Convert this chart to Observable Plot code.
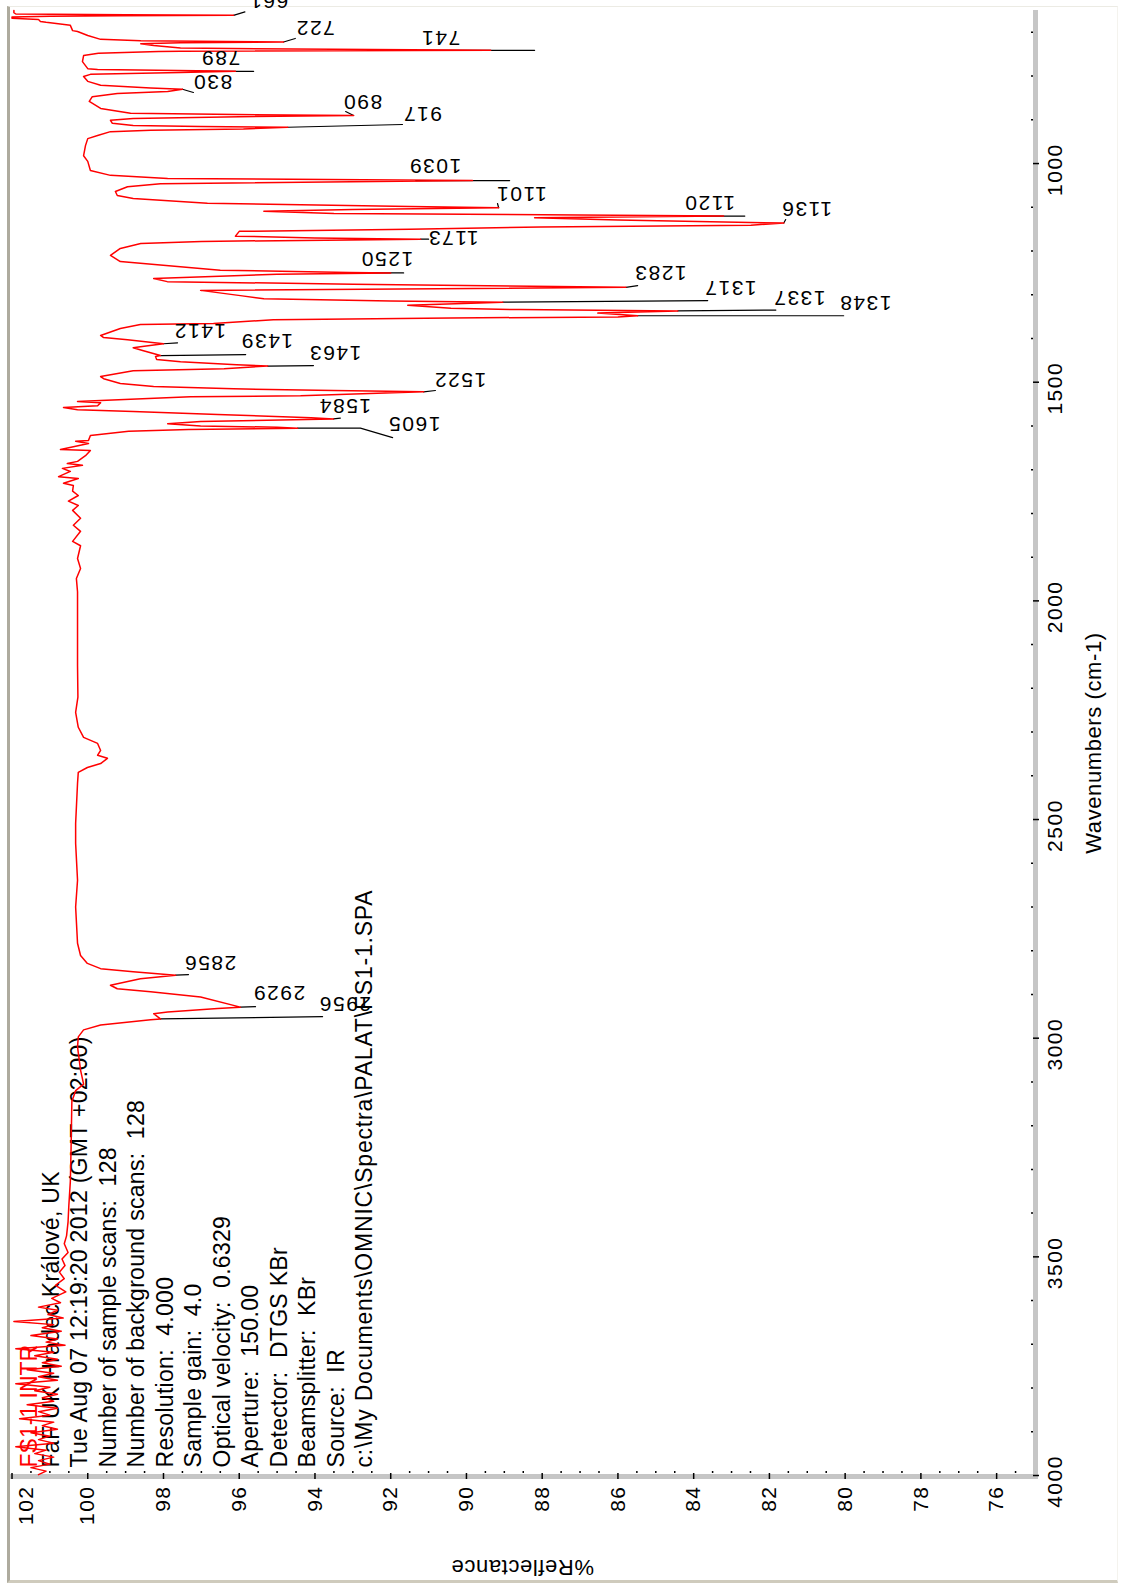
<!DOCTYPE html>
<html><head><meta charset="utf-8">
<script src="https://cdn.jsdelivr.net/npm/d3@7"></script>
<script src="https://cdn.jsdelivr.net/npm/@observablehq/plot@0.6"></script>
<style>
html,body{margin:0;padding:0;background:#fff;}
#wrap{position:relative;width:1123px;height:1585px;overflow:hidden;background:#fff;}
#frame{position:absolute;left:7px;top:6px;width:1111px;height:1577px;box-sizing:border-box;
  border-left:3px solid #aeab9e;border-bottom:3px solid #cfcbbd;border-top:1px solid #ecebe4;border-right:1px solid #f4f3ee;pointer-events:none;}
#wrap svg{position:absolute;left:0;top:0;}
</style></head>
<body><div id="wrap"><div id="frame"></div></div>
<script>
// ---- data (wavenumber cm-1, %reflectance) ----
const spectrum = [
 [650,101.95],[655,101.95],[658,101.9],[660,99.0],[661,96.15],[662,99.2],[663,101.0],[665,102.0],[668,102.0],
 [670.5,101.3],[675,101.25],[677,101.1],[684,100.46],[696,100.4],[698,100.27],[707,100.0],[716,99.66],[719,98.6],
 [722,94.83],[724,97.55],[726,98.6],[730,98.26],[736,97.55],[741,89.36],[743,97.55],[744,98.13],[748,99.72],
 [753,100.11],[767,100.14],[783,100.0],[785,99.74],[787,97.63],[789,96.1],[792,97.55],[796,99.93],[801,100.11],
 [812,100.0],[821,99.66],[827,98.34],[830,97.5],[835,97.89],[840,99.22],[847,99.88],[858,99.96],[874,99.66],
 [885,98.87],[888,96.07],[890,92.98],[893,95.99],[897,98.8],[901,99.4],[908,99.35],[913,98.8],[915,97.02],
 [917,94.72],[921,95.89],[924,98.34],[927,99.4],[936,99.74],[943,100.0],[959,100.06],[982,100.11],[995,100.0],
 [1016,99.93],[1027,99.4],[1034,97.89],[1039,89.84],[1046,98.08],[1053,98.95],[1064,99.27],[1073,99.22],
 [1080,98.8],[1091,96.84],[1098,91.5],[1101,89.15],[1105,93.0],[1109,95.35],[1114,93.5],[1120,83.21],
 [1124,88.2],[1129,86.0],[1136,81.62],[1141,82.49],[1145,88.04],[1150,91.5],[1155,96.0],[1166,96.1],
 [1170,94.0],[1173,91.21],[1178,97.0],[1183,98.6],[1194,99.14],[1210,99.4],[1224,99.14],[1244,96.5],
 [1249,93.1],[1250,92.0],[1253,95.0],[1263,98.26],[1270,97.9],[1276,93.0],[1283,85.79],[1290,97.02],
 [1302,95.97],[1309,95.35],[1314,92.0],[1317,89.04],[1324,91.55],[1331,90.41],[1334,88.6],[1337,84.42],
 [1342,86.53],[1348,85.48],[1351,86.0],[1353,90.41],[1357,95.1],[1366,96.68],[1368,98.61],[1377,99.14],
 [1393,99.66],[1398,99.58],[1403,98.95],[1412,98.0],[1419,98.61],[1421,98.8],[1428,98.53],[1439,98.08],
 [1441,98.21],[1448,98.18],[1453,97.55],[1460,96.07],[1463,95.25],[1469,96.4],[1474,98.8],[1487,99.66],
 [1492,99.58],[1503,99.14],[1510,98.26],[1515,96.15],[1519,93.51],[1522,91.13],[1531,94.38],[1533,97.29],
 [1542,99.66],[1544,100.27],[1547,99.66],[1554,99.74],[1558,100.64],[1563,100.27],[1567,98.8],[1574,96.57],
 [1581,94.1],[1584,93.51],[1590,97.02],[1595,97.89],[1600,97.02],[1603,95.0],[1605,94.46],[1608,97.34],
 [1612,98.92],[1622,99.93],[1633,99.98],[1635,100.32],[1640,99.98],[1654,100.72],[1656,99.93],[1668,100.06],
 [1681,100.27],[1686,100.54],[1690,100.14],[1697,100.67],[1704,100.46],[1716,100.77],[1720,100.25],
 [1731,100.64],[1736,100.38],[1749,100.4],[1759,100.25],[1772,100.51],[1782,100.25],[1793,100.4],
 [1811,100.19],[1827,100.38],[1841,100.19],[1864,100.4],[1874,100.19],[1903,100.27],[1926,100.19],
 [1949,100.3],[1979,100.27],[2025,100.27],[2148,100.27],[2220,100.26],[2255,100.32],[2289,100.25],
 [2312,100.11],[2326,99.74],[2342,99.66],[2353,99.74],[2360,99.48],[2372,99.66],[2381,100.01],[2392,100.25],
 [2417,100.27],[2509,100.32],[2555,100.32],[2639,100.27],[2700,100.32],[2783,100.27],[2811,100.19],
 [2829,100.01],[2841,99.66],[2848,98.8],[2856,97.68],[2864,98.61],[2879,99.4],[2887,99.22],[2894,98.34],
 [2906,97.02],[2929,95.97],[2932,96.57],[2940,97.89],[2944,98.26],[2956,98.08],[2958,98.34],[2970,99.66],
 [2981,100.11],[2997,100.25],[3020,100.27],[3073,100.19],[3105,100.11],[3120,100.32],[3145,100.42],
 [3250,100.44],[3328,100.46],[3383,100.5],[3420,100.52],[3452,100.56],[3470,100.62],[3490,100.52],
 [3505,100.68],[3520,100.6],[3535,100.75],[3550,100.62],[3565,100.85],[3580,100.58],[3595,100.95],
 [3605,100.72],[3615,101.3],[3622,100.8],[3632,101.05],[3640,100.65],[3648,101.95],[3655,100.9],
 [3662,101.2],[3670,100.7],[3680,101.5],[3688,100.8],[3695,101.1],[3702,100.6],[3710,101.9],[3718,100.9],
 [3726,101.4],[3734,100.8],[3742,101.2],[3750,100.7],[3758,101.6],[3766,100.9],[3774,101.3],[3782,100.8],
 [3790,101.9],[3798,101.0],[3806,101.4],[3814,100.8],[3822,101.2],[3830,100.9],[3838,101.6],[3846,100.8],
 [3854,101.3],[3862,101.0],[3870,101.8],[3878,100.9],[3886,101.2],[3894,100.8],[3902,101.5],[3910,101.0],
 [3918,101.3],[3926,100.9],[3934,101.9],[3942,101.1],[3950,101.4],[3958,100.9],[3966,101.3],[3974,101.0],
 [3982,101.5],[3990,101.1],[3998,101.3]
];

// peak labels: leader polyline and label anchor (refl, wavenumber)
const peaks = [
 {t:"661",  lead:[[96.15,661],[95.85,653]],            at:[95.75,646.5]},
 {t:"722",  lead:[[94.83,722],[94.52,714]],            at:[94.52,707.1]},
 {t:"741",  lead:[[91.16,741],[88.20,741]],            at:[91.21,730.0]},
 {t:"789",  lead:[[96.89,789],[95.62,789]],            at:[97.02,775.8]},
 {t:"830",  lead:[[97.50,830],[97.21,837.5]],          at:[97.23,830.6]},
 {t:"890",  lead:[[92.98,890],[93.19,881]],            at:[93.27,876.4]},
 {t:"917",  lead:[[94.72,917],[91.69,910.7]],          at:[91.69,903.8]},
 {t:"1039", lead:[[91.34,1039],[88.86,1039]],          at:[91.53,1022.8]},
 {t:"1101", lead:[[89.15,1101],[89.18,1091.4]],        at:[89.23,1086.8]},
 {t:"1120", lead:[[84.08,1120],[82.65,1120]],          at:[84.26,1107.4]},
 {t:"1136", lead:[[81.62,1136],[81.57,1128]],          at:[81.70,1121.1]},
 {t:"1173", lead:[[91.21,1173],[91.00,1173]],          at:[91.03,1187.4]},
 {t:"1250", lead:[[92.62,1250],[91.66,1250]],          at:[92.80,1235.5]},
 {t:"1283", lead:[[85.79,1283],[85.48,1279]],          at:[85.58,1267.5]},
 {t:"1317", lead:[[89.04,1317],[83.63,1313.2]],        at:[83.73,1301.8]},
 {t:"1337", lead:[[84.42,1337],[81.83,1335]],          at:[81.91,1324.7]},
 {t:"1348", lead:[[85.48,1348],[80.04,1348]],          at:[80.17,1336.1]},
 {t:"1412", lead:[[98.00,1412],[97.63,1410]],          at:[97.74,1400.2]},
 {t:"1439", lead:[[98.08,1439],[95.83,1436.8]],        at:[95.97,1423.1]},
 {t:"1463", lead:[[95.25,1463],[94.04,1462]],          at:[94.17,1450.5]},
 {t:"1522", lead:[[91.13,1522],[90.82,1519]],          at:[90.87,1512.2]},
 {t:"1584", lead:[[93.51,1584],[93.33,1582]],          at:[93.91,1571.7]},
 {t:"1605", lead:[[94.46,1605],[92.80,1605],[91.95,1626.7]], at:[92.08,1612.9]},
 {t:"2856", lead:[[97.68,2856],[97.34,2854.6]],        at:[97.47,2845.4]},
 {t:"2929", lead:[[95.97,2929],[95.57,2928]],          at:[95.65,2914.1]},
 {t:"2956", lead:[[98.08,2956],[93.80,2950.7]],        at:[93.91,2939.3]}
];

const reflTicks = [102,100,98,96,94,92,90,88,86,84,82,80,78,76];
const reflMinor = [101.5,101,100.5,99.5,99,98.5,97.5,97,96.5,95.5,95,94.5,93.5,93,92.5,91.5,91,90.5,
  89.5,89,88.5,87.5,87,86.5,85.5,85,84.5,83.5,83,82.5,81.5,81,80.5,79.5,79,78.5,77.5,77,76.5,75.5];
const wnTicks = [1000,1500,2000,2500,3000,3500,4000];
const wnMinor = [700,800,900,1100,1200,1300,1400,1600,1700,1800,1900,2100,2200,2300,2400,2600,2700,2800,2900,
  3100,3200,3300,3400,3600,3700,3800,3900];

const xLabel = "Wavenumbers (cm-1)";
const yLabel = "%Reflectance";
const titleLine = "FS1-1 INTR";
const infoLines = [
 "FaF UK Hradec Králové, UK",
 "Tue Aug 07 12:19:20 2012 (GMT +02:00)",
 "Number of sample scans:  128",
 "Number of background scans:  128",
 "Resolution:  4.000",
 "Sample gain:  4.0",
 "Optical velocity:  0.6329",
 "Aperture:  150.00",
 "Detector:  DTGS KBr",
 "Beamsplitter:  KBr",
 "Source:  IR",
 "c:\\My Documents\\OMNIC\\Spectra\\PALAT\\FS1-1.SPA"
];

// ---- chart ----
const leaderPts = peaks.flatMap(p => p.lead.map(([r, w]) => ({t: p.t, r, w})));
const FONT = "'Liberation Sans', Arial, Helvetica, sans-serif";

const chart = Plot.plot({
  width: 1123, height: 1585,
  marginLeft: 10, marginRight: 89, marginTop: 10, marginBottom: 110,
  x: {domain: [102.04, 75], axis: null},
  y: {domain: [4000, 650], axis: null},
  style: {fontFamily: FONT, background: "transparent", color: "#000"},
  marks: [
    // axis bands
    Plot.ruleY([4000], {stroke: "#c6c6c6", strokeWidth: 5, dy: 1, insetRight: -4}),
    Plot.ruleX([75], {stroke: "#c6c6c6", strokeWidth: 5, dx: 1, insetBottom: -3}),
    // ticks
    Plot.ruleX(reflTicks, {x: d => d, stroke: "#000", strokeWidth: 1.5, insetTop: 1463, insetBottom: -4}),
    Plot.ruleX(reflMinor, {x: d => d, stroke: "#000", strokeWidth: 1.5, insetTop: 1461, insetBottom: 2}),
    Plot.ruleY(wnTicks, {y: d => d, stroke: "#000", strokeWidth: 1.5, insetLeft: 1023, insetRight: -5}),
    Plot.ruleY(wnMinor, {y: d => d, stroke: "#000", strokeWidth: 1.5, insetLeft: 1021, insetRight: 1}),
    // tick labels
    Plot.text(reflTicks.filter(d => d !== 102), {x: d => d, text: d => String(d), frameAnchor: "bottom",
      rotate: -90, textAnchor: "end", lineAnchor: "middle", dy: 10, fontSize: 21}),
    Plot.text(reflTicks.filter(d => d === 102), {x: d => d, text: d => String(d), frameAnchor: "bottom",
      rotate: -90, textAnchor: "end", lineAnchor: "middle", dy: 10, dx: 14, fontSize: 21}),
    Plot.text(wnTicks, {y: d => d, text: d => String(d), frameAnchor: "right",
      rotate: -90, textAnchor: "middle", lineAnchor: "top", dx: 13, dy: 6, fontSize: 21}),
    // axis titles
    Plot.text([xLabel], {text: d => d, frameAnchor: "right", rotate: -90, textAnchor: "middle",
      lineAnchor: "top", dx: 51, fontSize: 22}),
    Plot.text([yLabel], {text: d => d, frameAnchor: "bottom", rotate: 180, textAnchor: "middle",
      lineAnchor: "middle", dy: 92, fontSize: 22}),
    // info block
    Plot.text([infoLines.join("\n")], {text: d => d, frameAnchor: "bottom-left", rotate: -90,
      textAnchor: "start", lineAnchor: "top", dx: 28, dy: -8, fontSize: 23, lineHeight: 1.24}),
    // peak leaders (under the spectrum)
    Plot.line(leaderPts, {x: "r", y: "w", z: "t", stroke: "#000", strokeWidth: 1.2}),
    // spectrum
    Plot.line(spectrum, {x: d => d[1], y: d => d[0], stroke: "#ff0000", strokeWidth: 1.5, curve: "linear"}),
    // title line in red
    Plot.text([titleLine], {text: d => d, frameAnchor: "bottom-left", rotate: -90, textAnchor: "start",
      lineAnchor: "top", dx: 10, dy: -8, fontSize: 23, fill: "#ff0000"}),
    // peak labels
    Plot.text(peaks, {x: d => d.at[0], y: d => d.at[1], text: d => d.t, rotate: 180,
      textAnchor: "end", lineAnchor: "top", fontSize: 21})
  ]
});

d3.select(chart).selectAll("text").each(function() {
  const s = this.textContent;
  if (/^[0-9]+$/.test(s)) this.style.letterSpacing = "1.5px";
  else if (s === xLabel || s === yLabel) this.style.letterSpacing = "0.6px";
});
d3.select(chart).selectAll("tspan").each(function() {
  const s = this.textContent;
  this.style.letterSpacing = s.startsWith("c:") ? "0.8px" : "0.3px";
});
document.getElementById("wrap").appendChild(chart);
</script>
</body></html>
